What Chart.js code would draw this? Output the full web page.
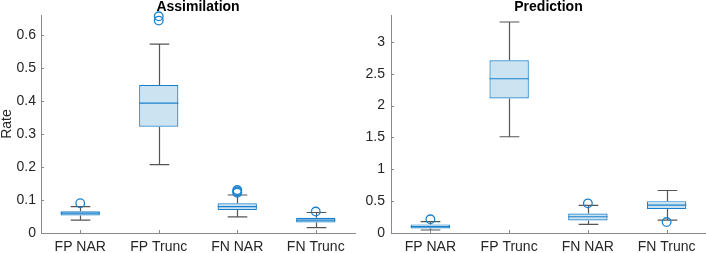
<!DOCTYPE html>
<html>
<head>
<meta charset="utf-8">
<script src="https://cdn.jsdelivr.net/npm/chart.js@4/dist/chart.umd.min.js"></script>
<style>
  html, body { margin: 0; padding: 0; background: #fff; }
  body { width: 706px; height: 253px; position: relative; overflow: hidden; }
  .wrap { position: absolute; top: 0; height: 253px; }
</style>
</head>
<body>
<div class="wrap" style="left:0;width:356px;"><canvas id="c1"></canvas></div>
<div class="wrap" style="left:356px;width:350px;"><canvas id="c2"></canvas></div>
<script>
// ---- data ----
const categories = ['FP NAR', 'FP Trunc', 'FN NAR', 'FN Trunc'];

const assimLower  = [0.039, 0.207, 0.049, 0.016];
const assimQ1     = [0.053, 0.322, 0.070, 0.032];
const assimMedian = [0.060, 0.393, 0.080, 0.039];
const assimQ3     = [0.066, 0.448, 0.090, 0.046];
const assimUpper  = [0.080, 0.572, 0.115, 0.062];
const assimOutlierCats   = ['FP NAR', 'FP Trunc', 'FP Trunc', 'FN NAR', 'FN NAR', 'FN NAR', 'FN Trunc'];
const assimOutlierValues = [0.090, 0.643, 0.656, 0.122, 0.126, 0.130, 0.065];
const assimTicks = [0, 0.1, 0.2, 0.3, 0.4, 0.5, 0.6];

const predLower  = [0.047, 1.51, 0.135, 0.203];
const predQ1     = [0.070, 2.11, 0.197, 0.376];
const predMedian = [0.100, 2.42, 0.255, 0.437];
const predQ3     = [0.135, 2.71, 0.307, 0.500];
const predUpper  = [0.180, 3.31, 0.432, 0.667];
const predOutlierCats   = ['FP NAR', 'FN NAR', 'FN Trunc'];
const predOutlierValues = [0.215, 0.465, 0.172];
const predTicks = [0, 0.5, 1, 1.5, 2, 2.5, 3];

// ---- styles ----
const FONT = 'Liberation Sans, Arial, Helvetica, sans-serif';
const BOX_EDGE = '#1b80cc';
const BOX_FACE = '#cce3f2';
const WHISKER = '#555555';
const AXIS = '#8a8a8a';
const TEXT = '#262626';

function boxPlugin(lower, q1, median, q3, upper) {
  return {
    id: 'boxparts',
    beforeDatasetsDraw(chart) {
      const ctx = chart.ctx, xs = chart.scales.x, ys = chart.scales.y;
      const step = xs.getPixelForValue(1) - xs.getPixelForValue(0);
      const capHalf = step * 0.125;
      ctx.save();
      ctx.strokeStyle = WHISKER;
      ctx.lineWidth = 1.2;
      for (let i = 0; i < lower.length; i++) {
        const x = Math.round(xs.getPixelForValue(i)) + 0.5;
        const yl = ys.getPixelForValue(lower[i]);
        const yu = ys.getPixelForValue(upper[i]);
        const y1 = ys.getPixelForValue(q1[i]);
        const y3 = ys.getPixelForValue(q3[i]);
        ctx.beginPath();
        ctx.moveTo(x, yu); ctx.lineTo(x, y3);
        ctx.moveTo(x, y1); ctx.lineTo(x, yl);
        ctx.moveTo(x - capHalf, yu); ctx.lineTo(x + capHalf, yu);
        ctx.moveTo(x - capHalf, yl); ctx.lineTo(x + capHalf, yl);
        ctx.stroke();
      }
      ctx.restore();
    },
    afterDatasetsDraw(chart) {
      const ctx = chart.ctx, xs = chart.scales.x, ys = chart.scales.y;
      const step = xs.getPixelForValue(1) - xs.getPixelForValue(0);
      const boxHalf = step * 0.25;
      ctx.save();
      ctx.strokeStyle = BOX_EDGE;
      ctx.lineWidth = 1.2;
      for (let i = 0; i < median.length; i++) {
        const x = xs.getPixelForValue(i);
        const ym = ys.getPixelForValue(median[i]);
        ctx.beginPath();
        ctx.moveTo(x - boxHalf, ym); ctx.lineTo(x + boxHalf, ym);
        ctx.stroke();
      }
      ctx.restore();
    },
    afterDraw(chart) {
      // inward tick marks
      const ctx = chart.ctx, xs = chart.scales.x, ys = chart.scales.y;
      const a = chart.chartArea;
      ctx.save();
      ctx.strokeStyle = AXIS;
      ctx.lineWidth = 1;
      ctx.beginPath();
      ys.ticks.forEach(t => {
        const y = Math.round(ys.getPixelForValue(t.value)) + 0.5;
        ctx.moveTo(a.left, y); ctx.lineTo(a.left + 3, y);
      });
      for (let i = 0; i < categories.length; i++) {
        const x = Math.round(xs.getPixelForValue(i)) + 0.5;
        ctx.moveTo(x, a.bottom); ctx.lineTo(x, a.bottom - 3);
      }
      ctx.stroke();
      ctx.restore();
    }
  };
}

function makeChart(id, opts) {
  const outliers = opts.outCats.map((c, i) => ({ x: c, y: opts.outVals[i] }));
  return new Chart(document.getElementById(id), {
    type: 'bar',
    data: {
      labels: categories,
      datasets: [
        {
          type: 'bar',
          data: opts.q1.map((v, i) => [v, opts.q3[i]]),
          backgroundColor: BOX_FACE,
          borderColor: BOX_EDGE,
          borderWidth: 1.2,
          borderSkipped: false,
          categoryPercentage: 1,
          barPercentage: 0.5,
          order: 2
        },
        {
          type: 'scatter',
          data: outliers,
          pointStyle: 'circle',
          pointRadius: 4.3,
          pointBorderWidth: 1.3,
          pointBorderColor: BOX_EDGE,
          pointBackgroundColor: 'rgba(0,0,0,0)',
          showLine: false,
          clip: false,
          order: 1
        }
      ]
    },
    options: {
      responsive: true,
      maintainAspectRatio: false,
      animation: false,
      devicePixelRatio: 1,
      layout: { autoPadding: false, padding: { top: 0, right: opts.padRight, bottom: 0, left: 0 } },
      plugins: {
        legend: { display: false },
        tooltip: { enabled: false },
        title: {
          display: true,
          text: opts.title,
          fullSize: false,
          color: '#000',
          font: { family: FONT, size: 14, weight: 'bold', lineHeight: 1 },
          padding: { top: 0, bottom: 1 }
        }
      },
      scales: {
        x: {
          type: 'category',
          offset: true,
          grid: { display: true, drawOnChartArea: false, drawTicks: false },
          border: { display: true, color: AXIS, width: 1 },
          ticks: { color: TEXT, font: { family: FONT, size: 14 }, padding: 6, maxRotation: 0, autoSkip: false },
          afterFit(s) { s.height = 20; s.paddingLeft = 0; s.paddingRight = 0; }
        },
        y: {
          type: 'linear',
          min: 0,
          max: opts.max,
          afterBuildTicks(s) { s.ticks = opts.ticks.map(v => ({ value: v })); },
          grid: { display: true, drawOnChartArea: false, drawTicks: false },
          border: { display: true, color: AXIS, width: 1 },
          ticks: {
            color: TEXT,
            font: { family: FONT, size: 14 },
            padding: opts.tickPad,
            callback: v => String(+v.toFixed(2))
          },
          title: opts.yTitle ? {
            display: true, text: opts.yTitle, color: TEXT,
            font: { family: FONT, size: 14, lineHeight: 1 },
            padding: { top: 0, bottom: 0 }
          } : { display: false },
          afterFit(s) { s.width = opts.yWidth; }
        }
      }
    },
    plugins: [boxPlugin(opts.lower, opts.q1, opts.median, opts.q3, opts.upper)]
  });
}

makeChart('c1', {
  title: 'Assimilation', yTitle: 'Rate', max: 0.66, ticks: assimTicks, yWidth: 41, tickPad: 5, padRight: 1,
  lower: assimLower, q1: assimQ1, median: assimMedian, q3: assimQ3, upper: assimUpper,
  outCats: assimOutlierCats, outVals: assimOutlierValues
});
makeChart('c2', {
  title: 'Prediction', yTitle: null, max: 3.42, ticks: predTicks, yWidth: 35, tickPad: 6, padRight: 0,
  lower: predLower, q1: predQ1, median: predMedian, q3: predQ3, upper: predUpper,
  outCats: predOutlierCats, outVals: predOutlierValues
});
</script>
</body>
</html>
